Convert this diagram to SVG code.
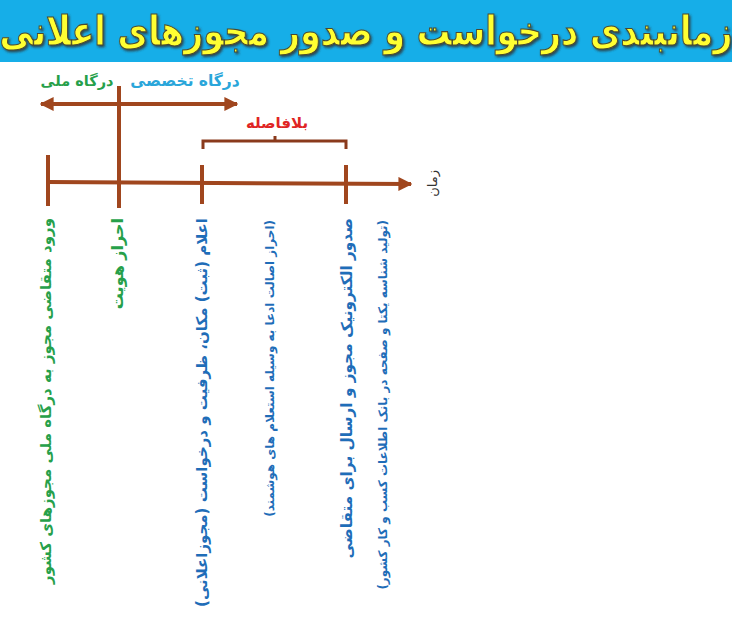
<svg xmlns="http://www.w3.org/2000/svg" width="732" height="625" viewBox="0 0 732 625">
<defs>
<style>
.ar{font-family:"DejaVu Sans","Noto Sans",sans-serif;font-weight:bold;}
.v{direction:rtl;text-anchor:start;dominant-baseline:central;}
.line{stroke:#A0461E;stroke-width:4;fill:none;}
.green{fill:#26A04A;}
.blue{fill:#1F6DB8;}
.cyan{fill:#2AA6DA;}
</style>
<filter id="sh" x="-5%" y="-20%" width="110%" height="140%">
<feDropShadow dx="1.5" dy="1.5" stdDeviation="1" flood-color="#333333" flood-opacity="0.8"/>
</filter>
<marker id="ah" viewBox="0 0 10 10" refX="9" refY="5" markerWidth="3.5" markerHeight="3.5" orient="auto-start-reverse" markerUnits="strokeWidth">
<path d="M0,0 L10,5 L0,10 z" fill="#A0461E"/>
</marker>
</defs>
<rect width="732" height="625" fill="#ffffff"/>
<g id="title">
<rect x="0" y="0" width="732" height="62" fill="#16AEE8"/>
<text class="ar" font-size="33.5" text-anchor="middle" direction="rtl" fill="#FFFF33" stroke="#4a4a30" stroke-width="0.9" filter="url(#sh)" transform="translate(366,45) scale(1,1.2)">زمانبندی درخواست و صدور مجوزهای اعلانی</text>
</g>
<g id="connectors">
<line class="line" x1="48" y1="182" x2="411" y2="184" marker-end="url(#ah)"/>
<line class="line" x1="48" y1="155" x2="48" y2="206"/>
<line class="line" x1="119" y1="86" x2="119" y2="208"/>
<line class="line" x1="202" y1="165" x2="202" y2="204"/>
<line class="line" x1="346" y1="165" x2="346" y2="204"/>
<line class="line" x1="41" y1="104" x2="237" y2="104" marker-start="url(#ah)" marker-end="url(#ah)"/>
<path d="M203,149 L203,141 L346,141 L346,149 M275,141 L275,136" stroke="#8A3A1C" stroke-width="3" fill="none"/>
</g>
<g id="labels">
<text x="77" y="86" class="ar green" font-size="14.5" text-anchor="middle">درگاه ملی</text>
<text x="185" y="86" class="ar cyan" font-size="15.5" text-anchor="middle">درگاه تخصصی</text>
<text x="277" y="128" class="ar" font-size="15" text-anchor="middle" fill="#E02424">بلافاصله</text>
<text class="v" font-family="DejaVu Sans, sans-serif" font-size="13" fill="#333" transform="translate(432,170) rotate(-90)">زمان</text>
</g>
<g id="n1"><text class="ar v green" font-size="15" transform="translate(46,218) rotate(-90)">ورود متقاضی مجوز به درگاه ملی مجوزهای کشور</text></g>
<g id="n2"><text class="ar v green" font-size="16" transform="translate(117,218) rotate(-90)">احراز هویت</text></g>
<g id="n3"><text class="ar v blue" font-size="15" transform="translate(202,218) rotate(-90)">اعلام (ثبت) مکان، ظرفیت و درخواست (مجوزاعلانی)</text></g>
<g id="n4"><text class="ar v blue" font-size="12" transform="translate(270,220) rotate(-90)">(احراز اصالت ادعا به وسیله استعلام های هوشمند)</text></g>
<g id="n5"><text class="ar v blue" font-size="15.3" transform="translate(347,218) rotate(-90)">صدور الکترونیک مجوز و ارسال برای متقاضی</text></g>
<g id="n6"><text class="ar v blue" font-size="12" transform="translate(383,220) rotate(-90)">(تولید شناسه یکتا و صفحه در بانک اطلاعات کسب و کار کشور)</text></g>
</svg>
